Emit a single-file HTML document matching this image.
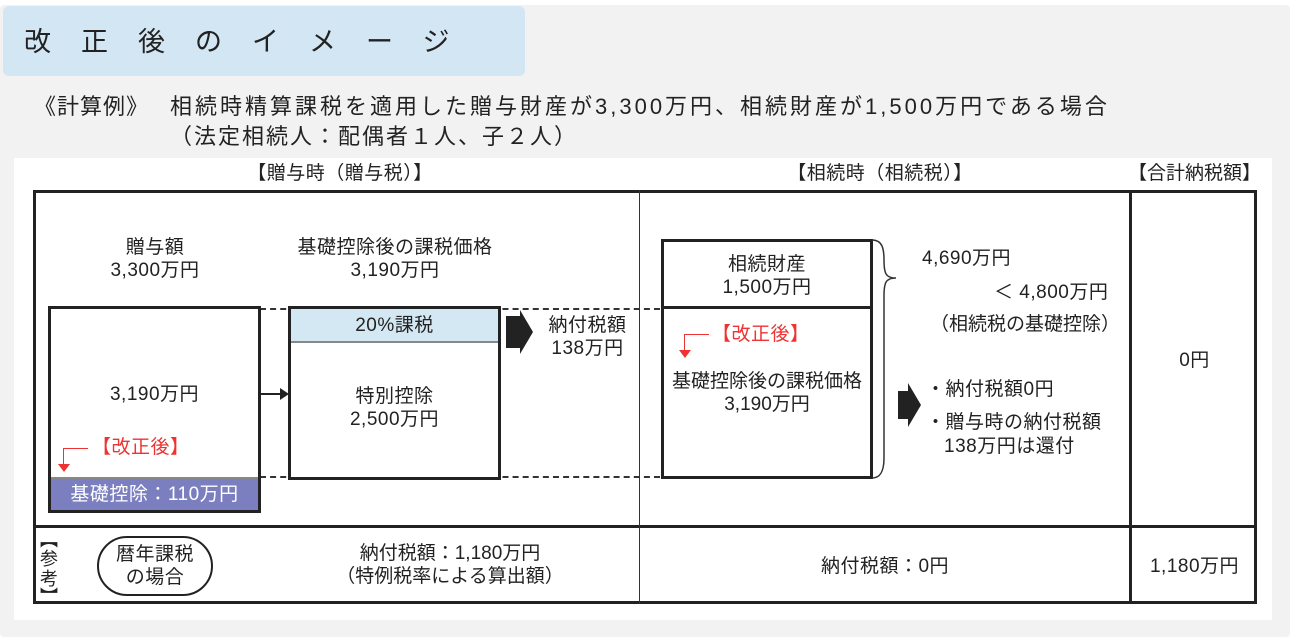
<!DOCTYPE html>
<html><head><meta charset="utf-8"><style>
body{margin:0;width:1292px;height:644px;background:#fff;position:relative;overflow:hidden;font-family:"Liberation Sans","Noto Sans CJK JP",sans-serif;color:#222}
.a{position:absolute}
.t{position:absolute;white-space:nowrap;text-align:center;font-size:19px;line-height:23px;letter-spacing:0.5px}
.b{position:absolute;border:3px solid #222;box-sizing:border-box;background:#fff}
</style></head><body>
<div class="a" style="left:0;top:5px;width:1290px;height:632px;background:#f2f2f2;border-radius:4px"></div>
<div class="a" style="left:3px;top:6px;width:522px;height:70px;background:#d3e6f3;border-radius:6px"></div>
<div class="t" style="left:24px;top:25px;font-size:27px;line-height:34px;letter-spacing:30px;text-align:left">改正後のイメージ</div>
<div class="t" style="left:34px;top:93px;font-size:22px;line-height:28px;text-align:left;letter-spacing:1px">《計算例》</div>
<div class="t" style="left:170px;top:93px;font-size:22px;line-height:28px;text-align:left;letter-spacing:3px">相続時精算課税を適用した贈与財産が3,300万円、相続財産が1,500万円である場合</div>
<div class="t" style="left:170px;top:123px;font-size:22px;line-height:28px;text-align:left;letter-spacing:2px">（法定相続人：配偶者１人、子２人）</div>
<div class="a" style="left:14px;top:158px;width:1258px;height:462px;background:#fff"></div>

<div class="t" style="left:200px;top:162px;width:280px">【贈与時（贈与税）】</div>
<div class="t" style="left:730px;top:162px;width:300px">【相続時（相続税）】</div>
<div class="t" style="left:1128px;top:162px;width:132px;letter-spacing:0">【合計納税額】</div>

<div class="a" style="left:33px;top:190px;width:1224px;height:414px;border:3px solid #222;box-sizing:border-box"></div>
<div class="a" style="left:33px;top:525px;width:1224px;height:3px;background:#222"></div>
<div class="a" style="left:639px;top:190px;width:1px;height:414px;background:#333"></div>
<div class="a" style="left:1129px;top:190px;width:3px;height:414px;background:#222"></div>

<div class="t" style="left:80px;top:236px;width:150px">贈与額<br>3,300万円</div>
<div class="t" style="left:260px;top:236px;width:270px">基礎控除後の課税価格<br>3,190万円</div>

<div class="a" style="left:260px;top:308px;width:400px;border-top:2px dashed #333"></div>
<div class="a" style="left:260px;top:476px;width:400px;border-top:2px dashed #333"></div>

<div class="b" style="left:48px;top:306px;width:213px;height:207px"></div>
<div class="t" style="left:48px;top:383px;width:213px">3,190万円</div>
<div class="a" style="left:51px;top:477px;width:207px;height:33px;background:#7b7fbf;border-top:2px solid #888;box-sizing:border-box"></div>
<div class="t" style="left:51px;top:483px;width:207px;color:#fff">基礎控除：110万円</div>
<div class="a" style="left:63px;top:448px;width:24px;height:16px;border-left:1.5px solid #e33;border-top:1.5px solid #e33"></div>
<div class="a" style="left:58px;top:464px;border-left:6px solid transparent;border-right:6px solid transparent;border-top:8px solid #e33"></div>
<div class="t" style="left:92px;top:436px;color:#e33">【改正後】</div>

<div class="a" style="left:261px;top:393px;width:20px;height:2px;background:#222"></div>
<div class="a" style="left:280px;top:388px;border-top:6px solid transparent;border-bottom:6px solid transparent;border-left:9px solid #222"></div>

<div class="b" style="left:288px;top:306px;width:213px;height:174px"></div>
<div class="a" style="left:291px;top:309px;width:207px;height:34px;background:#d4e8f4;border-bottom:2px solid #888;box-sizing:border-box"></div>
<div class="t" style="left:291px;top:314px;width:207px">20%課税</div>
<div class="t" style="left:291px;top:385px;width:207px">特別控除<br>2,500万円</div>

<svg class="a" style="left:500px;top:300px" width="40" height="60"><polygon points="6,16 20,16 20,10 33,32 20,54 20,48 6,48" fill="#222"/></svg>
<div class="t" style="left:540px;top:314px;width:95px">納付税額<br>138万円</div>

<div class="b" style="left:661px;top:239px;width:212px;height:240px"></div>
<div class="a" style="left:661px;top:306px;width:212px;height:3px;background:#222"></div>
<div class="t" style="left:661px;top:253px;width:212px">相続財産<br>1,500万円</div>
<div class="a" style="left:684px;top:334px;width:24px;height:16px;border-left:1.5px solid #e33;border-top:1.5px solid #e33"></div>
<div class="a" style="left:679px;top:350px;border-left:6px solid transparent;border-right:6px solid transparent;border-top:8px solid #e33"></div>
<div class="t" style="left:712px;top:323px;color:#e33">【改正後】</div>
<div class="t" style="left:657px;top:370px;width:220px;letter-spacing:0">基礎控除後の課税価格<br>3,190万円</div>

<svg class="a" style="left:870px;top:238px" width="40" height="244"><path d="M2,2 C12,2 14,10 14,22 C14,36 16,40 26,40 C16,40 14,44 14,58 L14,220 C14,234 10,240 2,240" fill="none" stroke="#333" stroke-width="1.5"/></svg>
<div class="t" style="left:922px;top:247px;text-align:left">4,690万円</div>
<div class="t" style="left:994px;top:281px;text-align:left">＜ 4,800万円</div>
<div class="t" style="left:930px;top:313px;text-align:left;letter-spacing:0">（相続税の基礎控除）</div>

<svg class="a" style="left:892px;top:375px" width="36" height="60"><polygon points="6,16 16,16 16,8 29,30 16,52 16,44 6,44" fill="#222"/></svg>
<div class="t" style="left:926px;top:378px;text-align:left">・納付税額0円</div>
<div class="t" style="left:926px;top:411px;text-align:left">・贈与時の納付税額</div>
<div class="t" style="left:944px;top:435px;text-align:left">138万円は還付</div>

<div class="t" style="left:1132px;top:349px;width:125px">0円</div>

<div class="a" style="left:38px;top:531px;width:22px;font-family:'Noto Sans CJK JP',sans-serif;font-size:18px;line-height:17px;text-align:center">︻<br><span style="line-height:20px">参</span><br><span style="line-height:20px">考</span><br>︼</div>
<div class="a" style="left:97px;top:536px;width:116px;height:60px;border:2px solid #222;border-radius:30px;box-sizing:border-box"></div>
<div class="t" style="left:97px;top:543px;width:116px">暦年課税<br>の場合</div>
<div class="t" style="left:300px;top:542px;width:300px;letter-spacing:0">納付税額：1,180万円<br>（特例税率による算出額）</div>
<div class="t" style="left:640px;top:555px;width:490px">納付税額：0円</div>
<div class="t" style="left:1132px;top:555px;width:125px">1,180万円</div>
</body></html>
